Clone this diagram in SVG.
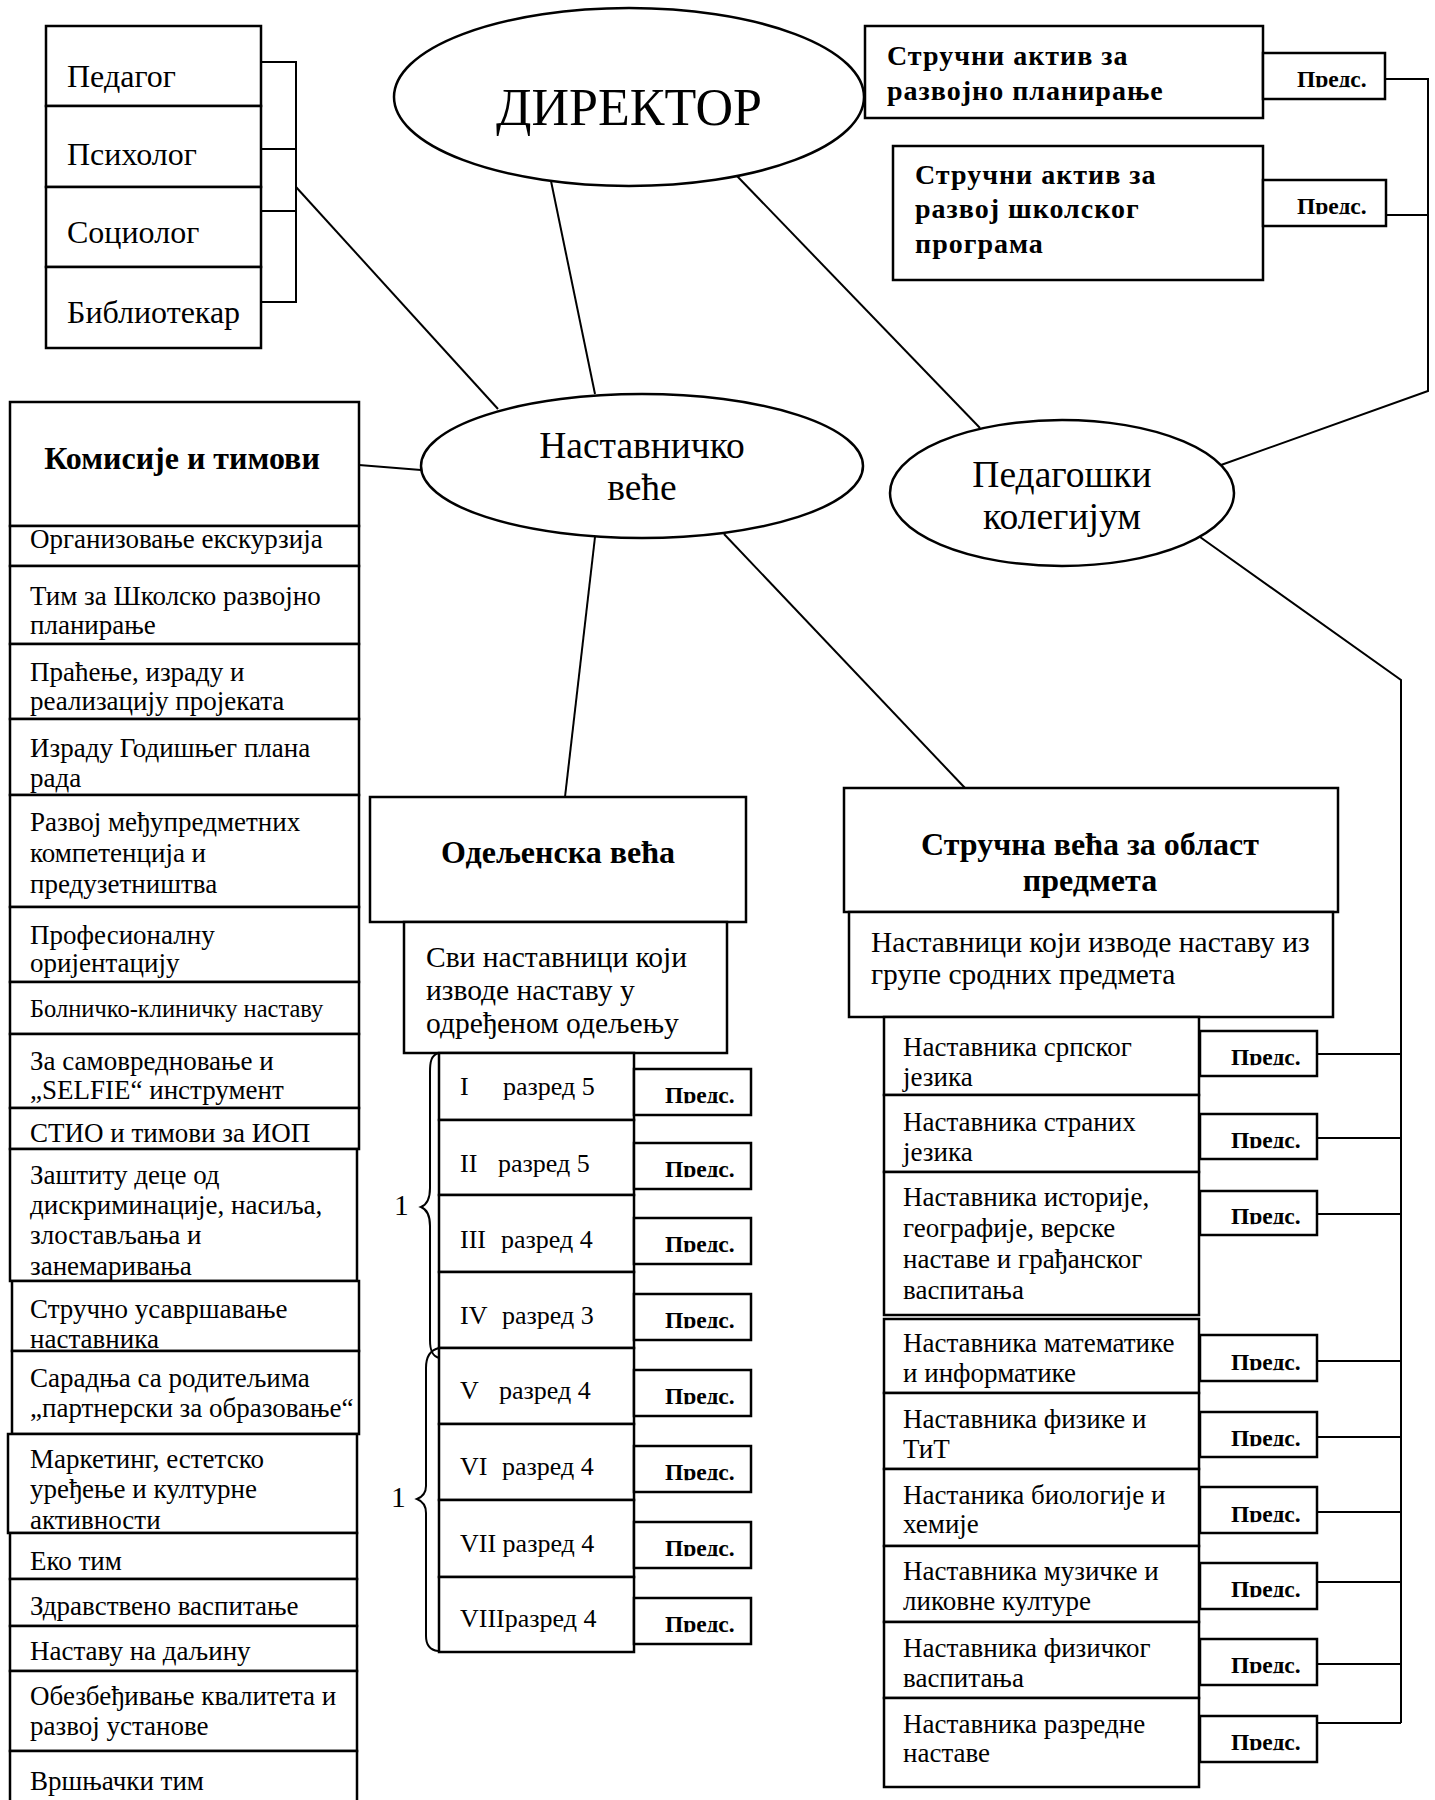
<svg xmlns="http://www.w3.org/2000/svg" width="1435" height="1800" viewBox="0 0 1435 1800">
<defs>
<style>
.bx{fill:#fff;stroke:#000;stroke-width:2.5}
.el{fill:#fff;stroke:#000;stroke-width:2.5}
.ln{fill:none;stroke:#000;stroke-width:2}
text{font-family:"Liberation Serif","Times New Roman",serif;fill:#000}
.s32{font-size:32px}
.s27{font-size:27px}
.s29{font-size:29.5px}
.s26{font-size:26px}
.s37{font-size:37.5px}
.hd{font-size:32px;font-weight:bold}
.ha{font-size:28px;font-weight:bold;letter-spacing:1px}
.pr{font-size:23.5px;font-weight:bold}
.m{text-anchor:middle}
</style>
<clipPath id="cut" clipPathUnits="objectBoundingBox"><rect x="-0.1" y="-0.1" width="1.2" height="0.92"/></clipPath>
</defs>
<rect width="1435" height="1800" fill="#fff"/>

<g id="connectors">
<path class="ln" d="M261,62 H296 V302 H261 M261,149 H296 M261,211 H296"/>
<path class="ln" d="M296,187 L498,409"/>
<path class="ln" d="M551,181 L595,394"/>
<path class="ln" d="M737,176 L980,428"/>
<path class="ln" d="M359,465 L421,470"/>
<path class="ln" d="M595,537 L565,797"/>
<path class="ln" d="M724,534 L965,788"/>
<path class="ln" d="M1385,79 H1428 V391 L1221,465 M1386,215 H1428"/>
<path class="ln" d="M1200,537 L1401,680 V1723"/>
<path class="ln" d="M1317,1054 H1401 M1317,1138 H1401 M1317,1214 H1401 M1317,1361 H1401 M1317,1437 H1401 M1317,1512 H1401 M1317,1582 H1401 M1317,1664 H1401 M1317,1723 H1401"/>
<path class="ln" d="M439,1053 C431,1055 430,1062 430,1072 V1188 C430,1200 426,1205 421,1207 C426,1209 430,1214 430,1226 V1340 C430,1350 432,1356 439,1358"/>
<path class="ln" d="M439,1348 C430,1350 426,1358 426,1368 V1486 C426,1494 422,1497 417,1499 C422,1501 426,1505 426,1513 V1636 C426,1645 430,1650 438,1651"/>
</g>

<g id="staff">
<rect class="bx" x="46" y="26" width="215" height="80"/>
<rect class="bx" x="46" y="106" width="215" height="81"/>
<rect class="bx" x="46" y="187" width="215" height="80"/>
<rect class="bx" x="46" y="267" width="215" height="81"/>
<text class="s32" x="67" y="87">Педагог</text>
<text class="s32" x="67" y="165">Психолог</text>
<text class="s32" x="67" y="243">Социолог</text>
<text class="s32" x="67" y="323">Библиотекар</text>
</g>

<g id="direktor">
<ellipse class="el" cx="629" cy="97" rx="235" ry="89"/>
<text x="629" y="125" class="m" font-size="52">ДИРЕКТОР</text>
</g>

<g id="aktiv-razvojno">
<rect class="bx" x="865" y="26" width="398" height="92"/>
<text class="ha" x="887" y="65">Стручни актив за</text>
<text class="ha" x="887" y="100">развојно планирање</text>
<rect class="bx" x="1263" y="53" width="122" height="46"/>
<text class="pr" x="1297" y="87" clip-path="url(#cut)">Предс.</text>
</g>

<g id="aktiv-program">
<rect class="bx" x="893" y="146" width="370" height="134"/>
<text class="ha" x="915" y="184">Стручни актив за</text>
<text class="ha" x="915" y="218">развој школског</text>
<text class="ha" x="915" y="253">програма</text>
<rect class="bx" x="1263" y="180" width="123" height="46"/>
<text class="pr" x="1297" y="214" clip-path="url(#cut)">Предс.</text>
</g>

<g id="nastavnicko-vece">
<ellipse class="el" cx="642" cy="466" rx="221" ry="72"/>
<text class="s37 m" x="642" y="458">Наставничко</text>
<text class="s37 m" x="642" y="500">веће</text>
</g>

<g id="pedagoski-kolegijum">
<ellipse class="el" cx="1062" cy="493" rx="172" ry="73"/>
<text class="s37 m" x="1062" y="487">Педагошки</text>
<text class="s37 m" x="1062" y="529">колегијум</text>
</g>

<g id="komisije">
<rect class="bx" x="10" y="402" width="349" height="124"/>
<text class="hd m" x="182" y="469">Комисије и тимови</text>
<rect class="bx" x="10" y="526" width="349" height="40"/>
<text class="s27" x="30" y="548">Организовање екскурзија</text>
<rect class="bx" x="10" y="566" width="349" height="78"/>
<text class="s27" x="30" y="605">Тим за Школско развојно</text>
<text class="s27" x="30" y="634">планирање</text>
<rect class="bx" x="10" y="644" width="349" height="75"/>
<text class="s27" x="30" y="681">Праћење, израду и</text>
<text class="s27" x="30" y="710">реализацију пројеката</text>
<rect class="bx" x="10" y="719" width="349" height="76"/>
<text class="s27" x="30" y="757">Израду Годишњег плана</text>
<text class="s27" x="30" y="787">рада</text>
<rect class="bx" x="10" y="795" width="349" height="112"/>
<text class="s27" x="30" y="831">Развој међупредметних</text>
<text class="s27" x="30" y="862">компетенција и</text>
<text class="s27" x="30" y="893">предузетништва</text>
<rect class="bx" x="10" y="907" width="349" height="75"/>
<text class="s27" x="30" y="944">Професионалну</text>
<text class="s27" x="30" y="972">оријентацију</text>
<rect class="bx" x="10" y="982" width="349" height="52"/>
<text x="30" y="1017" font-size="24.5">Болничко-клиничку наставу</text>
<rect class="bx" x="10" y="1034" width="349" height="74"/>
<text class="s27" x="30" y="1070">За самовредновање и</text>
<text class="s27" x="30" y="1099">„SELFIE“ инструмент</text>
<rect class="bx" x="10" y="1108" width="349" height="41"/>
<text class="s27" x="30" y="1142">СТИО и тимови за ИОП</text>
<rect class="bx" x="10" y="1149" width="347" height="132"/>
<text class="s27" x="30" y="1184">Заштиту деце од</text>
<text class="s27" x="30" y="1214">дискриминације, насиља,</text>
<text class="s27" x="30" y="1244">злостављања и</text>
<text class="s27" x="30" y="1275">занемаривања</text>
<rect class="bx" x="12" y="1281" width="347" height="70"/>
<text class="s27" x="30" y="1318">Стручно усавршавање</text>
<text class="s27" x="30" y="1348">наставника</text>
<rect class="bx" x="12" y="1351" width="347" height="83"/>
<text class="s27" x="30" y="1387">Сарадња са родитељима</text>
<text class="s27" x="30" y="1417">„партнерски за образовање“</text>
<rect class="bx" x="8" y="1434" width="349" height="99"/>
<text class="s27" x="30" y="1468">Маркетинг, естетско</text>
<text class="s27" x="30" y="1498">уређење и културне</text>
<text class="s27" x="30" y="1529">активности</text>
<rect class="bx" x="10" y="1533" width="347" height="46"/>
<text class="s27" x="30" y="1570">Еко тим</text>
<rect class="bx" x="10" y="1579" width="347" height="47"/>
<text class="s27" x="30" y="1615">Здравствено васпитање</text>
<rect class="bx" x="10" y="1626" width="347" height="45"/>
<text class="s27" x="30" y="1660">Наставу на даљину</text>
<rect class="bx" x="10" y="1671" width="347" height="80"/>
<text class="s27" x="30" y="1705">Обезбеђивање квалитета и</text>
<text class="s27" x="30" y="1735">развој установе</text>
<rect class="bx" x="10" y="1751" width="347" height="60"/>
<text class="s27" x="30" y="1790">Вршњачки тим</text>
</g>

<g id="odeljenska-veca">
<rect class="bx" x="370" y="797" width="376" height="125"/>
<text class="hd m" x="558" y="863">Одељенска већа</text>
<rect class="bx" x="404" y="922" width="323" height="131"/>
<text class="s29" x="426" y="967">Сви наставници који</text>
<text class="s29" x="426" y="1000">изводе наставу у</text>
<text class="s29" x="426" y="1033">одређеном одељењу</text>
</g>

<g id="razredi">
<rect class="bx" x="439" y="1053" width="195" height="67"/>
<text class="s26" x="460" y="1095"><tspan>I </tspan><tspan x="503">разред 5</tspan></text>
<rect class="bx" x="439" y="1120" width="195" height="75"/>
<text class="s26" x="460" y="1172"><tspan>II </tspan><tspan x="498">разред 5</tspan></text>
<rect class="bx" x="439" y="1195" width="195" height="77"/>
<text class="s26" x="460" y="1248"><tspan>III </tspan><tspan x="501">разред 4</tspan></text>
<rect class="bx" x="439" y="1272" width="195" height="76"/>
<text class="s26" x="460" y="1324"><tspan>IV </tspan><tspan x="502">разред 3</tspan></text>
<rect class="bx" x="439" y="1348" width="195" height="76"/>
<text class="s26" x="460" y="1399"><tspan>V </tspan><tspan x="499">разред 4</tspan></text>
<rect class="bx" x="439" y="1424" width="195" height="76"/>
<text class="s26" x="460" y="1475"><tspan>VI </tspan><tspan x="502">разред 4</tspan></text>
<rect class="bx" x="439" y="1500" width="195" height="77"/>
<text class="s26" x="460" y="1552">VII разред 4</text>
<rect class="bx" x="439" y="1577" width="195" height="75"/>
<text class="s26" x="460" y="1627">VIIIразред 4</text>
<rect class="bx" x="634" y="1069" width="117" height="46"/>
<text class="pr" x="665" y="1103" clip-path="url(#cut)">Предс.</text>
<rect class="bx" x="634" y="1143" width="117" height="46"/>
<text class="pr" x="665" y="1177" clip-path="url(#cut)">Предс.</text>
<rect class="bx" x="634" y="1218" width="117" height="46"/>
<text class="pr" x="665" y="1252" clip-path="url(#cut)">Предс.</text>
<rect class="bx" x="634" y="1294" width="117" height="46"/>
<text class="pr" x="665" y="1328" clip-path="url(#cut)">Предс.</text>
<rect class="bx" x="634" y="1370" width="117" height="46"/>
<text class="pr" x="665" y="1404" clip-path="url(#cut)">Предс.</text>
<rect class="bx" x="634" y="1446" width="117" height="46"/>
<text class="pr" x="665" y="1480" clip-path="url(#cut)">Предс.</text>
<rect class="bx" x="634" y="1522" width="117" height="46"/>
<text class="pr" x="665" y="1556" clip-path="url(#cut)">Предс.</text>
<rect class="bx" x="634" y="1598" width="117" height="46"/>
<text class="pr" x="665" y="1632" clip-path="url(#cut)">Предс.</text>
<text class="s29" x="394" y="1215">1</text>
<text class="s29" x="391" y="1507">1</text>
</g>

<g id="strucna-veca">
<rect class="bx" x="844" y="788" width="494" height="124"/>
<text class="hd m" x="1090" y="855">Стручна већа за област</text>
<text class="hd m" x="1090" y="891">предмета</text>
<rect class="bx" x="849" y="912" width="484" height="105"/>
<text class="s29" x="871" y="952">Наставници који изводе наставу из</text>
<text class="s29" x="871" y="984">групе сродних предмета</text>
</g>

<g id="predmeti">
<rect class="bx" x="884" y="1017" width="315" height="78"/>
<text class="s27" x="903" y="1056">Наставника српског</text>
<text class="s27" x="903" y="1086">језика</text>
<rect class="bx" x="884" y="1095" width="315" height="77"/>
<text class="s27" x="903" y="1131">Наставника страних</text>
<text class="s27" x="903" y="1161">језика</text>
<rect class="bx" x="884" y="1172" width="315" height="143"/>
<text class="s27" x="903" y="1206">Наставника историје,</text>
<text class="s27" x="903" y="1237">географије, верске</text>
<text class="s27" x="903" y="1268">наставе и грађанског</text>
<text class="s27" x="903" y="1299">васпитања</text>
<rect class="bx" x="884" y="1319" width="315" height="74"/>
<text class="s27" x="903" y="1352">Наставника математике</text>
<text class="s27" x="903" y="1382">и информатике</text>
<rect class="bx" x="884" y="1393" width="315" height="76"/>
<text class="s27" x="903" y="1428">Наставника физике и</text>
<text class="s27" x="903" y="1458">ТиТ</text>
<rect class="bx" x="884" y="1469" width="315" height="77"/>
<text class="s27" x="903" y="1504">Настаника биологије и</text>
<text class="s27" x="903" y="1533">хемије</text>
<rect class="bx" x="884" y="1546" width="315" height="76"/>
<text class="s27" x="903" y="1580">Наставника музичке и</text>
<text class="s27" x="903" y="1610">ликовне културе</text>
<rect class="bx" x="884" y="1622" width="315" height="76"/>
<text class="s27" x="903" y="1657">Наставника физичког</text>
<text class="s27" x="903" y="1687">васпитања</text>
<rect class="bx" x="884" y="1698" width="315" height="89"/>
<text class="s27" x="903" y="1733">Наставника разредне</text>
<text class="s27" x="903" y="1762">наставе</text>
<rect class="bx" x="1200" y="1031" width="117" height="45"/>
<text class="pr" x="1231" y="1065" clip-path="url(#cut)">Предс.</text>
<rect class="bx" x="1200" y="1114" width="117" height="45"/>
<text class="pr" x="1231" y="1148" clip-path="url(#cut)">Предс.</text>
<rect class="bx" x="1200" y="1191" width="117" height="44"/>
<text class="pr" x="1231" y="1224" clip-path="url(#cut)">Предс.</text>
<rect class="bx" x="1200" y="1335" width="117" height="46"/>
<text class="pr" x="1231" y="1370" clip-path="url(#cut)">Предс.</text>
<rect class="bx" x="1200" y="1412" width="117" height="45"/>
<text class="pr" x="1231" y="1446" clip-path="url(#cut)">Предс.</text>
<rect class="bx" x="1200" y="1487" width="117" height="46"/>
<text class="pr" x="1231" y="1522" clip-path="url(#cut)">Предс.</text>
<rect class="bx" x="1200" y="1563" width="117" height="46"/>
<text class="pr" x="1231" y="1597" clip-path="url(#cut)">Предс.</text>
<rect class="bx" x="1200" y="1639" width="117" height="46"/>
<text class="pr" x="1231" y="1673" clip-path="url(#cut)">Предс.</text>
<rect class="bx" x="1200" y="1716" width="117" height="46"/>
<text class="pr" x="1231" y="1750" clip-path="url(#cut)">Предс.</text>
</g>
</svg>
